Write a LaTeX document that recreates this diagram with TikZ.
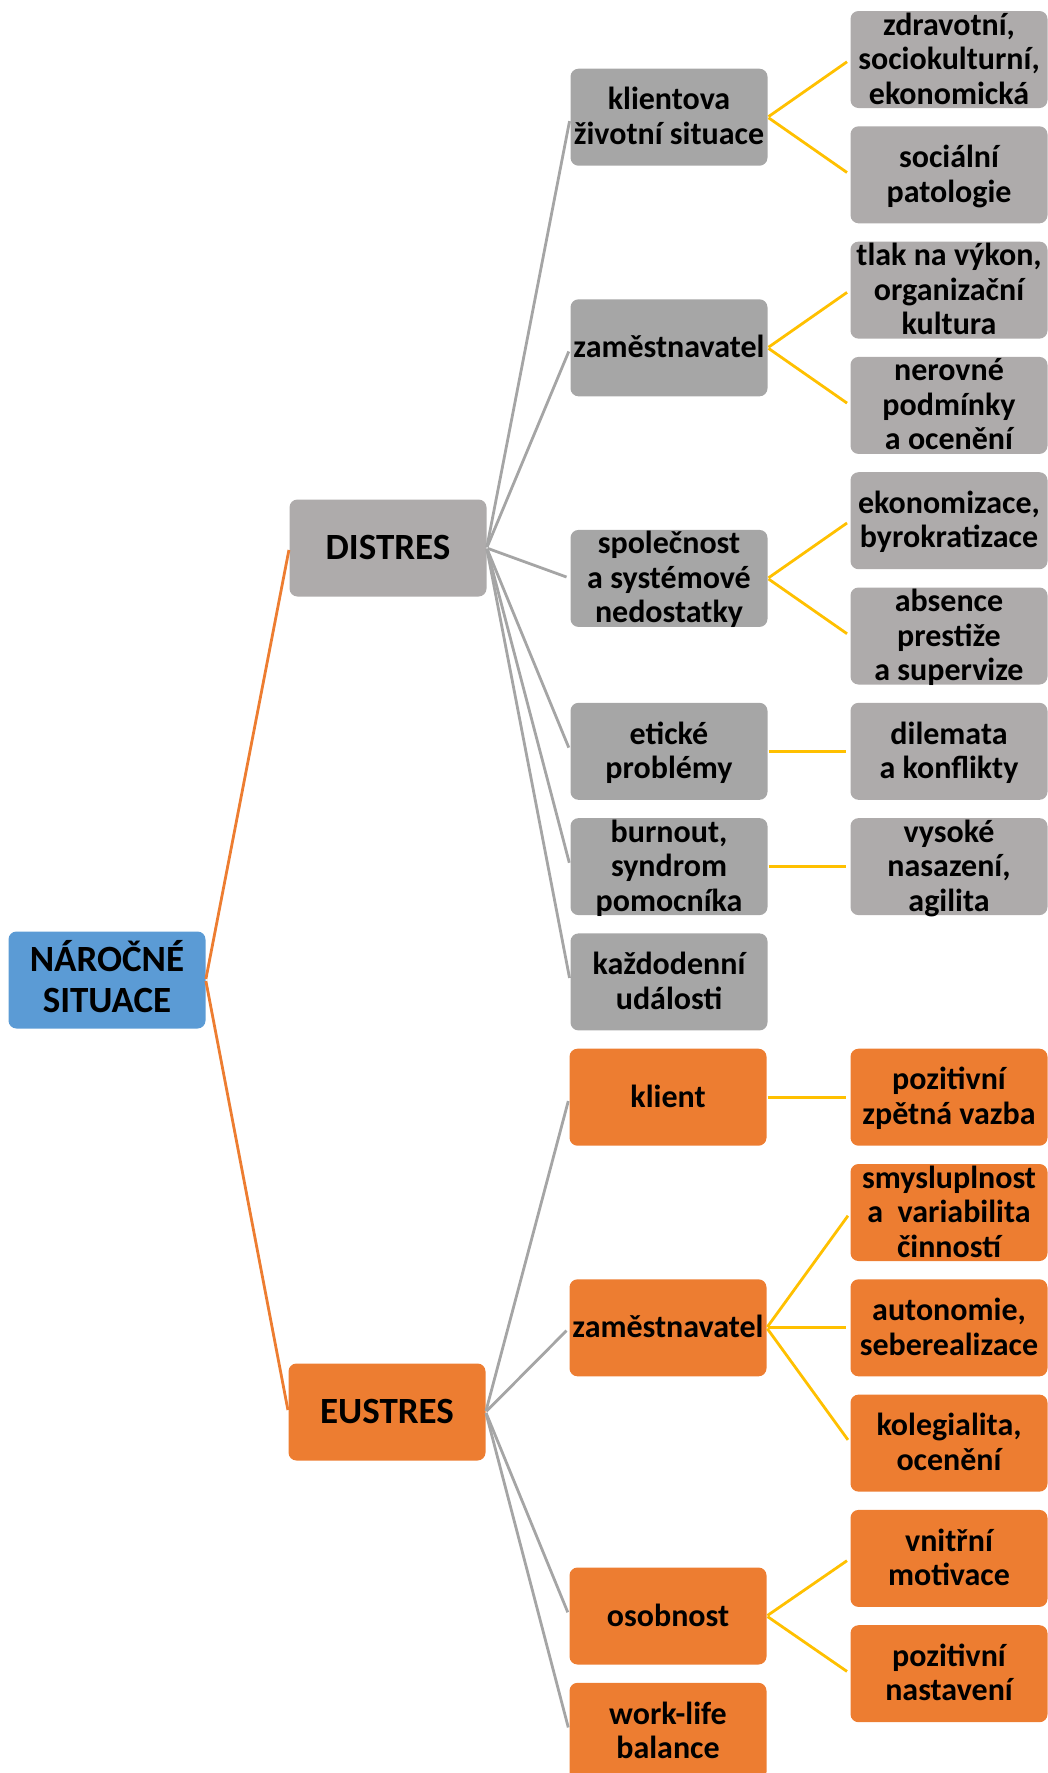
\documentclass[tikz,border=0pt]{standalone}
\usepackage{fontspec}
\setmainfont{Carlito}
\definecolor{cblue}{HTML}{5B9BD5}
\definecolor{cgrayA}{HTML}{AEABAB}
\definecolor{cgrayB}{HTML}{A6A6A6}
\definecolor{corange}{HTML}{ED7D31}
\definecolor{cyellow}{HTML}{FFC000}
\definecolor{cline}{HTML}{A5A5A5}
\tikzset{
  box/.style={rectangle, rounded corners=8pt, minimum width=197pt, minimum height=97pt, inner sep=0pt, draw=none},
  txta/.style={inner sep=0pt, anchor=base, font=\fontsize{32}{34.5}\selectfont\bfseries},
  txtb/.style={inner sep=0pt, anchor=base, font=\fontsize{37}{41}\selectfont\bfseries},
  gline/.style={draw=cline, line width=2.8pt, shorten <=1pt, shorten >=4pt},
  yline/.style={draw=cyellow, line width=2.8pt, shorten <=1pt, shorten >=4pt},
  oline/.style={draw=corange, line width=2.8pt, shorten <=1pt, shorten >=2pt},
}
\newcommand\bxa[6]{%
  \node[box,fill=#4] (#1) at (#2,#3) {};
  \node[txta] (#1-t) at ({#2},{#3-(#5-1)*17.25+10}) {\begin{tabular}[t]{@{}c@{}}#6\end{tabular}};
}
\newcommand\bxb[6]{%
  \node[box,fill=#4] (#1) at (#2,#3) {};
  \node[txtb] (#1-t) at ({#2},{#3-(#5-1)*20.5+11.5}) {\begin{tabular}[t]{@{}c@{}}#6\end{tabular}};
}
\begin{document}
\begin{tikzpicture}[x=1pt,y=-1pt]
\useasboundingbox (0,0) rectangle (1048,1773);
\clip (0,0) rectangle (1048,1773);
% root and level 1
\bxb{root}{107}{980}{cblue}{2}{NÁROČNÉ\\SITUACE}
\bxb{dis}{388}{548}{cgrayA}{1}{DISTRES}
\bxb{eus}{387}{1412}{corange}{1}{EUSTRES}
% level 2 distres
\bxa{d1}{669}{117.2}{cgrayB}{2}{klientova\\životní situace}
\bxa{d2}{669}{347.8}{cgrayB}{1}{zaměstnavatel}
\bxa{d3}{669}{578.4}{cgrayB}{3}{společnost\\a systémové\\nedostatky}
\bxa{d4}{669}{751.3}{cgrayB}{2}{etické\\problémy}
\bxa{d5}{669}{866.6}{cgrayB}{3}{burnout,\\syndrom\\pomocníka}
\bxa{d6}{669}{981.9}{cgrayB}{2}{každodenní\\události}
% level 2 eustres
\bxa{e1}{668}{1097.2}{corange}{1}{klient}
\bxa{e2}{668}{1327.8}{corange}{1}{zaměstnavatel}
\bxa{e3}{668}{1616}{corange}{1}{osobnost}
\bxa{e4}{668}{1731.3}{corange}{2}{work-life\\balance}
% level 3
\bxa{c0}{949}{59.5}{cgrayA}{3}{zdravotní,\\sociokulturní,\\ekonomická}
\bxa{c1}{949}{174.8}{cgrayA}{2}{sociální\\patologie}
\bxa{c2}{949}{290.1}{cgrayA}{3}{tlak na výkon,\\organizační\\kultura}
\bxa{c3}{949}{405.4}{cgrayA}{3}{nerovné\\podmínky\\a ocenění}
\bxa{c4}{949}{520.7}{cgrayA}{2}{ekonomizace,\\byrokratizace}
\bxa{c5}{949}{636.0}{cgrayA}{3}{absence\\prestiže\\a supervize}
\bxa{c6}{949}{751.3}{cgrayA}{2}{dilemata\\a konflikty}
\bxa{c7}{949}{866.6}{cgrayA}{3}{vysoké\\nasazení,\\agilita}
\bxa{c9}{949}{1097.2}{corange}{2}{pozitivní\\zpětná vazba}
\bxa{c10}{949}{1212.5}{corange}{3}{smysluplnost\\a\ \ variabilita\\činností}
\bxa{c11}{949}{1327.8}{corange}{2}{autonomie,\\seberealizace}
\bxa{c12}{949}{1443.1}{corange}{2}{kolegialita,\\ocenění}
\bxa{c13}{949}{1558.4}{corange}{2}{vnitřní\\motivace}
\bxa{c14}{949}{1673.7}{corange}{2}{pozitivní\\nastavení}
% connectors
\draw[oline] (root.east) -- (dis.west);
\draw[oline] (root.east) -- (eus.west);
\foreach \c in {d1,d2,d3,d4,d5,d6} \draw[gline] (dis.east) -- (\c.west);
\foreach \c in {e1,e2,e3,e4} \draw[gline] (eus.east) -- (\c.west);
\draw[yline] (d1.east) -- (c0.west);
\draw[yline] (d1.east) -- (c1.west);
\draw[yline] (d2.east) -- (c2.west);
\draw[yline] (d2.east) -- (c3.west);
\draw[yline] (d3.east) -- (c4.west);
\draw[yline] (d3.east) -- (c5.west);
\draw[yline] (d4.east) -- (c6.west);
\draw[yline] (d5.east) -- (c7.west);
\draw[yline] (e1.east) -- (c9.west);
\draw[yline] (e2.east) -- (c10.west);
\draw[yline] (e2.east) -- (c11.west);
\draw[yline] (e2.east) -- (c12.west);
\draw[yline] (e3.east) -- (c13.west);
\draw[yline] (e3.east) -- (c14.west);
\end{tikzpicture}
\end{document}
